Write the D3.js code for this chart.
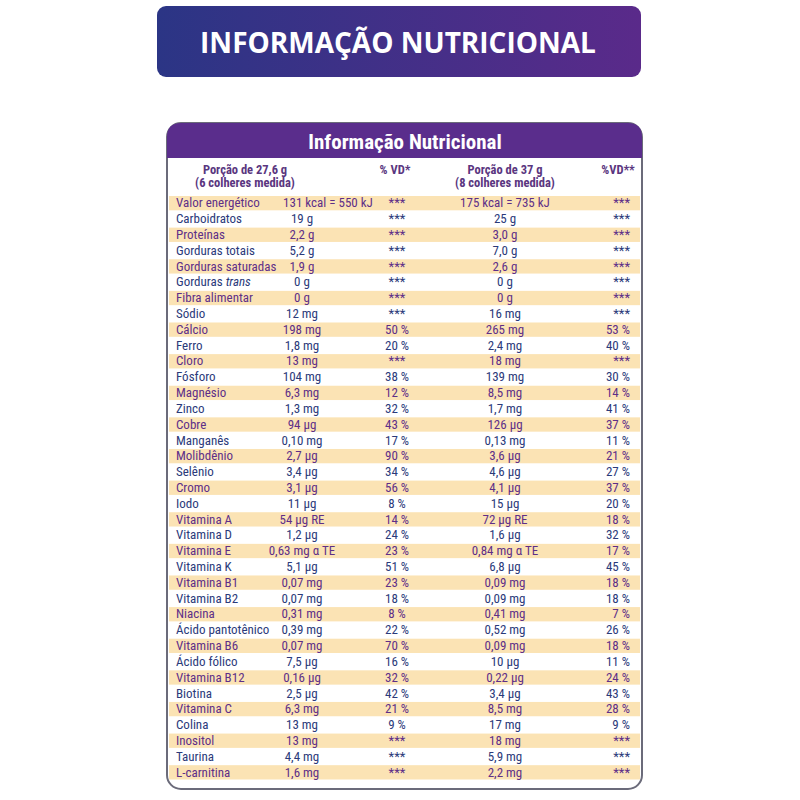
<!DOCTYPE html><html><head><meta charset="utf-8"><script src="https://cdn.jsdelivr.net/npm/d3@7"></script>
<style>body{margin:0;background:#fff}</style></head><body><svg id="c" width="800" height="800"></svg>
<script>
const nutrients=["Valor energético","Carboidratos","Proteínas","Gorduras totais","Gorduras saturadas","Gorduras trans","Fibra alimentar","Sódio","Cálcio","Ferro","Cloro","Fósforo","Magnésio","Zinco","Cobre","Manganês","Molibdênio","Selênio","Cromo","Iodo","Vitamina A","Vitamina D","Vitamina E","Vitamina K","Vitamina B1","Vitamina B2","Niacina","Ácido pantotênico","Vitamina B6","Ácido fólico","Vitamina B12","Biotina","Vitamina C","Colina","Inositol","Taurina","L-carnitina"];
const portion1=["131 kcal = 550 kJ","19 g","2,2 g","5,2 g","1,9 g","0 g","0 g","12 mg","198 mg","1,8 mg","13 mg","104 mg","6,3 mg","1,3 mg","94 µg","0,10 mg","2,7 µg","3,4 µg","3,1 µg","11 µg","54 µg RE","1,2 µg","0,63 mg α TE","5,1 µg","0,07 mg","0,07 mg","0,31 mg","0,39 mg","0,07 mg","7,5 µg","0,16 µg","2,5 µg","6,3 mg","13 mg","13 mg","4,4 mg","1,6 mg"];
const vd1=["***","***","***","***","***","***","***","***","50 %","20 %","***","38 %","12 %","32 %","43 %","17 %","90 %","34 %","56 %","8 %","14 %","24 %","23 %","51 %","23 %","18 %","8 %","22 %","70 %","16 %","32 %","42 %","21 %","9 %","***","***","***"];
const portion2=["175 kcal = 735 kJ","25 g","3,0 g","7,0 g","2,6 g","0 g","0 g","16 mg","265 mg","2,4 mg","18 mg","139 mg","8,5 mg","1,7 mg","126 µg","0,13 mg","3,6 µg","4,6 µg","4,1 µg","15 µg","72 µg RE","1,6 µg","0,84 mg α TE","6,8 µg","0,09 mg","0,09 mg","0,41 mg","0,52 mg","0,09 mg","10 µg","0,22 µg","3,4 µg","8,5 mg","17 mg","18 mg","5,9 mg","2,2 mg"];
const vd2=["***","***","***","***","***","***","***","***","53 %","40 %","***","30 %","14 %","41 %","37 %","11 %","21 %","27 %","37 %","20 %","18 %","32 %","17 %","45 %","18 %","18 %","7 %","26 %","18 %","11 %","24 %","43 %","28 %","9 %","***","***","***"];

const svg=d3.select("#c");
const F="'Liberation Sans Narrow','Roboto Condensed','Liberation Sans',sans-serif";
const defs=svg.append("defs");
const g1=defs.append("linearGradient").attr("id","bg");
g1.append("stop").attr("offset","0").attr("stop-color","#2b3585");
g1.append("stop").attr("offset","1").attr("stop-color","#5a2a8a");
svg.append("rect").attr("x",157).attr("y",6).attr("width",484).attr("height",71).attr("rx",9).attr("fill","url(#bg)");
svg.append("text").attr("x",398).attr("y",53).attr("text-anchor","middle").attr("fill","#fff")
 .attr("font-family","'Open Sans',sans-serif").attr("font-weight","bold").attr("font-size",28).text("INFORMAÇÃO NUTRICIONAL");

svg.append("rect").attr("x",167).attr("y",123).attr("width",475).attr("height",666).attr("rx",14).attr("fill","#fff").attr("stroke","#6b6b7a").attr("stroke-width",2);
svg.append("path").attr("d","M167,158 V137 Q167,123 181,123 H628 Q642,123 642,137 V158 Z").attr("fill","#5a2d8c");
svg.append("text").attr("x",405).attr("y",149).attr("text-anchor","middle").attr("fill","#fff").attr("font-family",F).attr("font-weight","bold").attr("font-size",21).text("Informação Nutricional");

const hdr=svg.append("g").attr("font-family",F).attr("font-weight","bold").attr("font-size",12.5).attr("fill","#5a3680");
[[245,174,"Porção de 27,6 g"],[245,187,"(6 colheres medida)"],[395,174,"% VD*"],[505,174,"Porção de 37 g"],[505,187,"(8 colheres medida)"],[618,174,"%VD**"]]
 .forEach(d=>hdr.append("text").attr("x",d[0]).attr("y",d[1]).attr("text-anchor","middle").text(d[2]));

const y=d3.scaleBand().domain(nutrients.map((d,i)=>i)).range([196,781]).paddingInner(0);
const rows=svg.append("g").selectAll("g").data(nutrients).join("g").attr("transform",(d,i)=>`translate(0,${y(i)})`);
rows.filter((d,i)=>i%2===0).append("rect").attr("x",169).attr("width",471).attr("height",y.bandwidth()-1.5).attr("fill","#fbe3b4");
const txt=(sel,x,anchor,acc)=>sel.append("text").attr("x",x).attr("y",y.bandwidth()*0.72).attr("text-anchor",anchor)
 .attr("font-family",F).attr("font-size",13).attr("fill",(d,i)=>i%2===0?"#5e2f88":"#2b3a7a").text(acc);
const lab=txt(rows,176,"start",d=>d);
lab.filter(d=>d==="Gorduras trans").text(null).call(t=>{t.append("tspan").text("Gorduras ");t.append("tspan").attr("font-style","italic").text("trans");});
txt(rows,302,"middle",(d,i)=>portion1[i]).attr("dx",(d,i)=>i===0?26:0);
txt(rows,397,"middle",(d,i)=>vd1[i]);
txt(rows,505,"middle",(d,i)=>portion2[i]);
txt(rows,630,"end",(d,i)=>vd2[i]);
</script></body></html>
